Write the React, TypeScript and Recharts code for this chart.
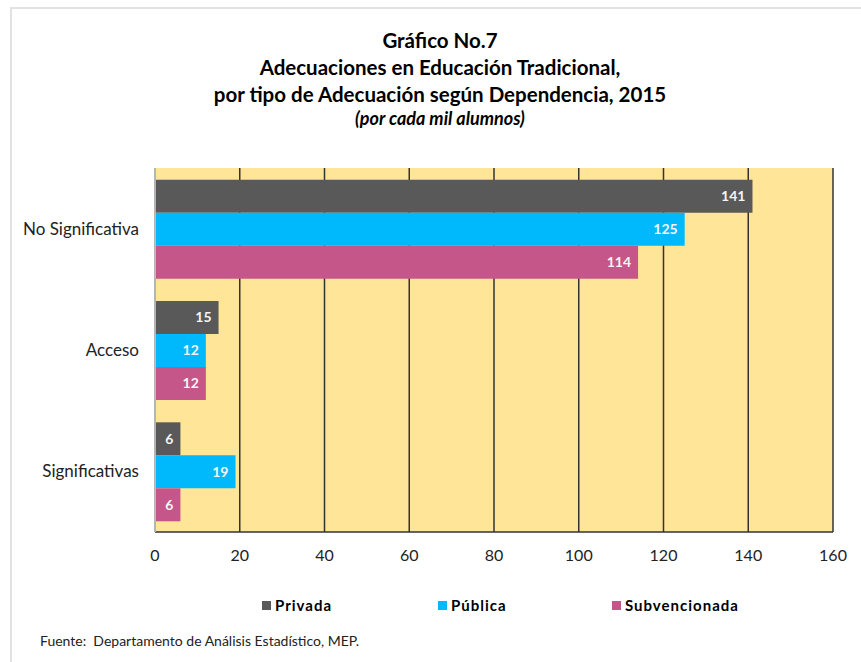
import React from "react";
import { BarChart, Bar, XAxis, YAxis, CartesianGrid, LabelList } from "recharts";

const categories = ["No Significativa", "Acceso", "Significativas"];
const privada = [141, 15, 6];
const publica = [125, 12, 19];
const subvencionada = [114, 12, 6];
const xTicks = [0, 20, 40, 60, 80, 100, 120, 140, 160];

const seriesInfo = [
    { key: "privada", name: "Privada", color: "#595959" },
    { key: "publica", name: "Pública", color: "#00B9FC" },
    { key: "subvencionada", name: "Subvencionada", color: "#C5568A" },
];

const FONT = "Lato, 'Liberation Sans', sans-serif";

export default function App() {
    const data = categories.map((c, i) => ({
        category: c,
        privada: privada[i],
        publica: publica[i],
        subvencionada: subvencionada[i],
    }));

    const legendLeft = [262, 438, 612];

    // absolute at 0,0 so everything below is in page pixels
    return (
        <div style={{ position: "absolute", left: 0, top: 0, width: 861, height: 662, background: "#fff", fontFamily: FONT, overflow: "hidden" }}>
            {/* outer frame, only top and left edges are visible */}
            <div style={{ position: "absolute", left: 10, top: 7, width: 851, height: 2, background: "#e2e2e2" }} />
            <div style={{ position: "absolute", left: 10, top: 7, width: 2, height: 655, background: "#e2e2e2" }} />

            <div style={{ position: "absolute", left: 0, width: 880, top: 27, textAlign: "center", color: "#000", fontWeight: "bold", fontSize: 20.5, lineHeight: "27px" }}>
                <div>Gráfico No.7</div>
                <div>Adecuaciones en Educación Tradicional,</div>
                <div>por tipo de Adecuación según Dependencia, 2015</div>
                <div style={{ fontStyle: "italic", fontSize: 18, lineHeight: "20px" }}>(por cada mil alumnos)</div>
            </div>

            <div style={{ position: "absolute", left: 0, top: 0 }}>
                <BarChart
                    width={861}
                    height={575}
                    data={data}
                    layout="vertical"
                    margin={{ top: 168, right: 28, left: 0, bottom: 13 }}
                    barCategoryGap="9.6%"
                    barGap={0}
                >
                    <CartesianGrid horizontal={false} stroke="#333" strokeWidth={1.5} fill="#FFE597" fillOpacity={1} />
                    <XAxis
                        type="number"
                        domain={[0, 160]}
                        ticks={xTicks}
                        tickLine={false}
                        axisLine={{ stroke: "#333", strokeWidth: 1.5 }}
                        tick={{ fontSize: 16, fill: "#222", fontFamily: FONT }}
                        tickMargin={12}
                        height={30}
                    />
                    <XAxis
                        xAxisId="top"
                        orientation="top"
                        type="number"
                        domain={[0, 160]}
                        tick={false}
                        tickLine={false}
                        axisLine={{ stroke: "#cfcfcf", strokeWidth: 1.5 }}
                        height={0}
                    />
                    <YAxis
                        type="category"
                        dataKey="category"
                        width={155}
                        tickLine={false}
                        axisLine={{ stroke: "#d0d0d0", strokeWidth: 1.5 }}
                        tick={{ fontSize: 17, fill: "#222", fontFamily: FONT }}
                        tickMargin={10}
                    />
                    {seriesInfo.map((s) => (
                        <Bar key={s.key} dataKey={s.key} name={s.name} fill={s.color} isAnimationActive={false}>
                            <LabelList
                                dataKey={s.key}
                                position="insideRight"
                                offset={7}
                                fill="#f5f5f5"
                                style={{ fontSize: 14, fontWeight: "bold", fontFamily: FONT }}
                            />
                        </Bar>
                    ))}
                </BarChart>
            </div>

            {seriesInfo.map((s, i) => (
                <div key={s.key} style={{ position: "absolute", left: legendLeft[i], top: 596, display: "flex", alignItems: "center", fontSize: 15, fontWeight: "bold", color: "#000" }}>
                    <span style={{ display: "inline-block", width: 9, height: 9, background: s.color, marginRight: 4 }} />
                    <span style={{ letterSpacing: 1 }}>{s.name}</span>
                </div>
            ))}

            <div style={{ position: "absolute", left: 40, top: 632, fontSize: 14, color: "#222" }}>
                Fuente:&nbsp; Departamento de Análisis Estadístico, MEP.
            </div>
        </div>
    );
}
